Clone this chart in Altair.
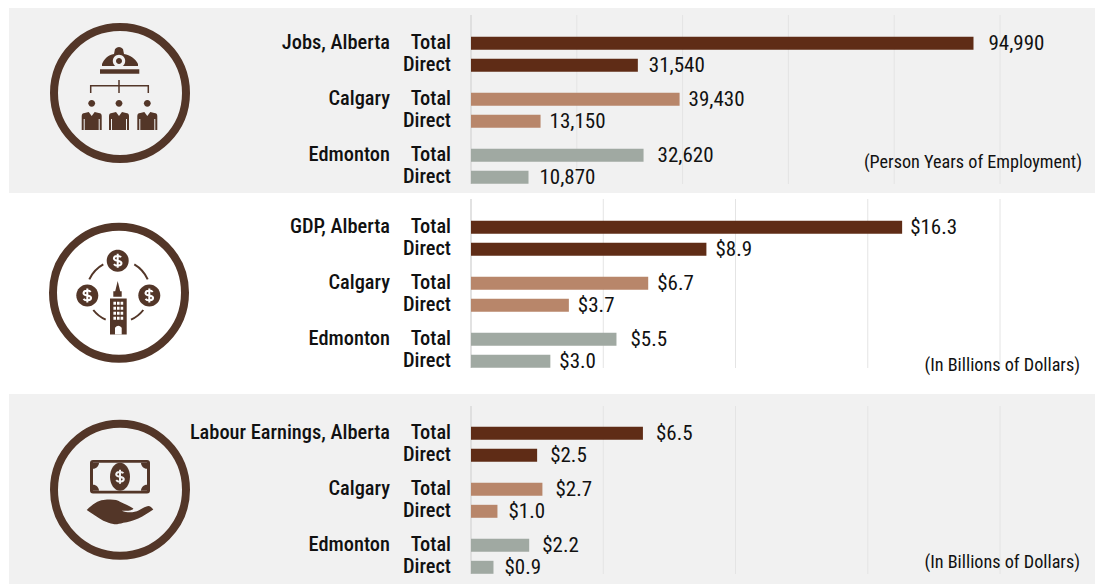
import altair as alt
import pandas as pd

# ---------------- data ----------------
regions = ["Alberta", "Calgary", "Edmonton"]
measures = ["Total", "Direct"]

jobs_values = [94990, 31540, 39430, 13150, 32620, 10870]
jobs_labels = ["94,990", "31,540", "39,430", "13,150", "32,620", "10,870"]
gdp_values = [16.3, 8.9, 6.7, 3.7, 5.5, 3.0]
gdp_labels = ["$16.3", "$8.9", "$6.7", "$3.7", "$5.5", "$3.0"]
earn_values = [6.5, 2.5, 2.7, 1.0, 2.2, 0.85]
earn_labels = ["$6.5", "$2.5", "$2.7", "$1.0", "$2.2", "$0.9"]

jobs_heads = ["Jobs, Alberta", "Calgary", "Edmonton"]
gdp_heads = ["GDP, Alberta", "Calgary", "Edmonton"]
earn_heads = ["Labour Earnings, Alberta", "Calgary", "Edmonton"]

jobs_ticks = [0, 20000, 40000, 60000, 80000, 100000]
dollar_ticks = [0, 5, 10, 15, 20]

jobs_gaps = [15, 11, 9, 9, 14, 11]
gdp_gaps = [8, 9, 9, 9, 14, 9]
earn_gaps = [13, 13, 13, 11, 13, 11]

# ---------------- styling ----------------
FONT = "Roboto Condensed, Roboto"
INK = "#111111"
BROWN = "#533628"
PANEL = "#f1f1f1"
WHITE = "#ffffff"
colors = ["#5f2c16", "#b8866a", "#a0a9a2"]
LEFT = 9  # page x of the chart's left edge
FS_VALUE = 21
FS_HEAD = 20.4
FS_NOTE = 18.2
PANEL_W = 1086


def circ(cx, cy, r):
    return f"M{cx-r},{cy}A{r},{r} 0 1 0 {cx+r},{cy}A{r},{r} 0 1 0 {cx-r},{cy}Z"


def rect(x0, y0, x1, y1):
    return f"M{x0},{y0}L{x1},{y0}L{x1},{y1}L{x0},{y1}Z"


dummy = pd.DataFrame({"d": [0]})


def fill_glyph(path, color, cx, cy):
    return alt.Chart(dummy).mark_point(
        shape=path, size=4, opacity=1, filled=True, fill=color, strokeWidth=0
    ).encode(x=alt.value(cx), y=alt.value(cy))


def line_glyph(path, color, cx, cy, sw):
    return alt.Chart(dummy).mark_point(
        shape=path, size=4, opacity=1, filled=False, stroke=color, strokeWidth=sw
    ).encode(x=alt.value(cx), y=alt.value(cy))


def ring(cx, cy):
    return alt.Chart(dummy).mark_point(
        shape="circle", size=132 * 132, opacity=1, filled=False, stroke=BROWN, strokeWidth=8
    ).encode(x=alt.value(cx), y=alt.value(cy))


S_PATH = ("M3.4,-3.4C2,-5.4 -3.8,-5.4 -3.8,-2.2C-3.8,0.8 3.8,-0.8 3.8,2.4"
          "C3.8,5.6 -2,5.6 -3.8,3.4M0,-7L0,7")


def icon_jobs(cx, cy, bg):
    hat = ("M-18,-27L-18,-29C-16,-34 -12,-38 -6,-39L-5,-44Q-1,-48 3,-44L4,-39"
           "C10,-38 16,-34 18,-29L18,-27Z")
    body = ("M-10,37L-10,23Q-10,20 -7,20L-3,19L0,23L3,19L7,20Q10,20 10,23L10,37L8,37"
            "L8,26L7,26L7,37L-7,37L-7,26L-8,26L-8,37Z")
    layers = [
        ring(cx, cy),
        fill_glyph(hat, BROWN, cx, cy),
        fill_glyph(circ(-1, -32, 6.2), bg, cx, cy),
        fill_glyph(circ(-1, -32, 3), BROWN, cx, cy),
        fill_glyph(rect(-20, -23.7, 19.3, -19.3), BROWN, cx, cy),
        line_glyph("M-1,-13L-1,0M-29.3,0L-29.3,-7.3L28.3,-7.3L28.3,0", BROWN, cx, cy, 1.5),
    ]
    for hx in (-28.3, -1, 27.3):
        layers.append(fill_glyph(circ(0, 10.3, 3.4), BROWN, cx + hx, cy))
        layers.append(fill_glyph(body, BROWN, cx + hx, cy))
    return layers


def icon_gdp(cx, cy, bg):
    layers = [
        ring(cx, cy),
        line_glyph("M-29.7,-13.3A33,33 0 0 1 -15.7,-28.3"
                   "M15.3,-28.3A33,33 0 0 1 28.7,-13.3"
                   "M-25.7,17.3A33,33 0 0 0 -13.3,27"
                   "M12,27A33,33 0 0 0 24.3,17.3", BROWN, cx, cy, 2),
    ]
    for dx, dy in ((-1.3, -32), (-31.7, 2.7), (30.3, 2.7)):
        layers.append(fill_glyph(circ(0, 0, 11), BROWN, cx + dx, cy + dy))
        layers.append(line_glyph(S_PATH, bg, cx + dx, cy + dy, 2))
    tower = ("M-1.3,-11.7L1.2,-1.5L2.7,-1.5L2.7,4L-5.7,4L-5.7,-1.5L-3.8,-1.5Z"
             "M-9,5.7L7.7,5.7L7.7,41.7L-9,41.7Z")
    panes = ""
    for row in (9, 14, 19, 24):
        for col in (-5.6, -2, 1.6):
            panes += rect(col, row, col + 2.6, row + 3)
    door = "M-4,41.7L-4,35Q-0.7,31 2.7,35L2.7,41.7Z"
    layers += [
        fill_glyph(tower, BROWN, cx, cy),
        fill_glyph(panes, bg, cx, cy),
        fill_glyph(door, bg, cx, cy),
    ]
    return layers


def icon_earn(cx, cy, bg):
    bill = ("M-27,-29.7L27,-29.7Q30,-29.7 30,-26.7L30,0.7Q30,3.7 27,3.7L-27,3.7"
            "Q-30,3.7 -30,0.7L-30,-26.7Q-30,-29.7 -27,-29.7Z")
    oval = "M-10,-13A10,14 0 1 0 10,-13A10,14 0 1 0 -10,-13Z"
    corners = ("M-27,-27L-21,-27A6,6 0 0 1 -27,-21Z"
               "M27,-27L21,-27A6,6 0 0 0 27,-21Z"
               "M-27,1L-21,1A6,6 0 0 0 -27,-5Z"
               "M27,1L21,1A6,6 0 0 1 27,-5Z")
    hand = ("M-33.3,20.3C-27,14 -22,11 -16.7,10.3C-8,9.3 -3,10 0,12C4,14 9,16 13.3,18.7"
            "C13.5,20.5 8,21.5 1.7,21C8,23.5 14,23 19,20.5C23,18.5 26,16.5 28.3,16.3"
            "C30,16.3 32,18 33.3,19.7C28,23 24,26 18.3,28.7C13,31 8,32.3 3.3,33"
            "C-1,34.3 -4,34.8 -6.7,34.3C-10,33.5 -13,32.5 -16.7,31C-22,28 -28,24 -33.3,20.3Z")
    return [
        ring(cx, cy),
        fill_glyph(bill, BROWN, cx, cy),
        fill_glyph(rect(-27, -27, 27, 1), bg, cx, cy),
        fill_glyph(corners, BROWN, cx, cy),
        fill_glyph(oval, BROWN, cx, cy),
        line_glyph(S_PATH, bg, cx, cy - 13, 2),
        fill_glyph(hand, BROWN, cx, cy),
    ]


def panel(values, labels, heads, gaps, ticks, x_max, centre_top, top, h, grid_top, grid_bottom,
          bg, icon_layers, note, note_right, note_y):
    rows = []
    for i, (v, lab, gap) in enumerate(zip(values, labels, gaps)):
        rows.append({
            "region": regions[i // 2],
            "measure": measures[i % 2],
            "value": v,
            "label": lab,
            "gap": gap,
            "head": heads[i // 2] if i % 2 == 0 else "",
        })
    df = pd.DataFrame(rows)
    x_scale = alt.Scale(domain=[0, x_max], range=[471 - LEFT, 1000 - LEFT])
    y_enc = alt.Y("region:N", axis=None,
                  scale=alt.Scale(domain=regions, range=[centre_top - 28 - top, centre_top + 140 - top],
                                  paddingInner=0, paddingOuter=0))
    off_enc = alt.YOffset("measure:N",
                          scale=alt.Scale(domain=measures, range=[0, 56], paddingInner=0.41, paddingOuter=0.478))

    grid = alt.Chart(pd.DataFrame({"tick": ticks[1:]})).mark_rule(color="#e4e4e4", strokeWidth=1).encode(
        x=alt.X("tick:Q", scale=x_scale, axis=None),
        y=alt.value(grid_top - top), y2=alt.value(grid_bottom - top))
    base_axis = alt.Chart(pd.DataFrame({"tick": ticks[:1]})).mark_rule(color="#d9d9d9", strokeWidth=1.5).encode(
        x=alt.X("tick:Q", scale=x_scale, axis=None),
        y=alt.value(grid_top - top), y2=alt.value(grid_bottom - top))
    bars = alt.Chart(df).mark_bar(cornerRadius=0).encode(
        x=alt.X("value:Q", scale=x_scale, axis=None),
        y=y_enc, yOffset=off_enc,
        color=alt.Color("region:N", legend=None, scale=alt.Scale(domain=regions, range=colors)),
    )
    value_layers = [
        alt.Chart(df[df["gap"] == g]).mark_text(
            font=FONT, fontSize=FS_VALUE, align="left", baseline="middle", color=INK, dx=g, dy=1
        ).encode(
            x=alt.X("value:Q", scale=x_scale, axis=None),
            y=y_enc, yOffset=off_enc, text="label:N",
        )
        for g in sorted(set(gaps))
    ]
    measure_text = alt.Chart(df).mark_text(
        font=FONT, fontSize=FS_HEAD, align="right", baseline="middle", color=INK, fontWeight=500
    ).encode(
        x=alt.value(451 - LEFT), y=y_enc, yOffset=off_enc, text="measure:N",
    )
    head_text = alt.Chart(df[df["head"] != ""]).mark_text(
        font=FONT, fontSize=FS_HEAD, align="right", baseline="middle", color=INK, fontWeight=500
    ).encode(
        x=alt.value(390 - LEFT), y=y_enc, yOffset=off_enc, text="head:N",
    )
    note_text = alt.Chart(pd.DataFrame({"note": [note]})).mark_text(
        font=FONT, fontSize=FS_NOTE, align="right", baseline="middle", color=INK, dy=1
    ).encode(x=alt.value(note_right - LEFT), y=alt.value(note_y - top), text="note:N")

    return alt.layer(
        *icon_layers, grid, base_axis, bars, *value_layers, measure_text, head_text, note_text
    ).properties(width=PANEL_W, height=h, view=alt.ViewBackground(fill=bg, stroke=None))


p1 = panel(jobs_values, jobs_labels, jobs_heads, jobs_gaps, jobs_ticks, 100000,
           54.3, 8, 185, 15, 184, PANEL,
           icon_jobs(120 - LEFT, 93 - 8, PANEL),
           "(Person Years of Employment)", 1082, 162)
p2 = panel(gdp_values, gdp_labels, gdp_heads, gdp_gaps, dollar_ticks, 20,
           238.3, 193, 201, 199, 368, WHITE,
           icon_gdp(119 - LEFT, 292.7 - 193, WHITE),
           "(In Billions of Dollars)", 1080, 365)
p3 = panel(earn_values, earn_labels, earn_heads, earn_gaps, dollar_ticks, 20,
           444.3, 394, 190, 406, 574, PANEL,
           icon_earn(120 - LEFT, 489.7 - 394, PANEL),
           "(In Billions of Dollars)", 1080, 562)

chart = alt.vconcat(p1, p2, p3, spacing=0, padding={"left": 1, "top": 0, "right": 0, "bottom": 0},
                    bounds="flush", background="white")
chart.save("out.html", embed_options={"renderer": "svg", "actions": False})
